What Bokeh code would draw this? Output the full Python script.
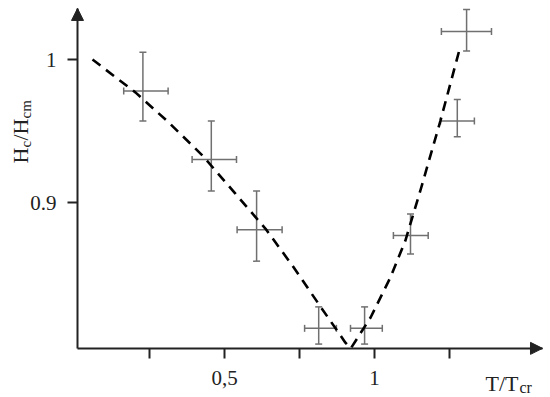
import math
from bokeh.plotting import figure
from bokeh.models import (ColumnDataSource, Whisker, TeeHead, Arrow, NormalHead,
                          Label, FixedTicker, Range1d)
from bokeh.embed import file_html
from bokeh.resources import INLINE

# ---- data ----
pt_x = [0.228, 0.456, 0.607, 0.814, 0.967, 1.120, 1.276, 1.307]
pt_y = [0.978, 0.930, 0.881, 0.812, 0.812, 0.877, 0.957, 1.0196]
pt_xlo = [0.164, 0.392, 0.542, 0.767, 0.920, 1.063, 1.220, 1.223]
pt_xhi = [0.312, 0.540, 0.692, 0.873, 1.026, 1.179, 1.333, 1.390]
pt_ylo = [0.957, 0.908, 0.859, 0.801, 0.801, 0.864, 0.946, 1.006]
pt_yhi = [1.005, 0.957, 0.908, 0.827, 0.827, 0.892, 0.972, 1.035]

curve_x = [0.060, 0.203, 0.314, 0.426, 0.537, 0.637, 0.726, 0.814, 0.903, 0.921,
           0.987, 1.053, 1.103, 1.153, 1.220, 1.287]
curve_y = [1.000, 0.977, 0.956, 0.933, 0.906, 0.8816, 0.856, 0.829, 0.802, 0.798,
           0.8196, 0.8476, 0.8734, 0.9084, 0.9573, 1.0098]

x_ticks = [0.25, 0.5, 0.75, 1.0, 1.25]
x_tick_labels = {0.25: "", 0.5: "0,5", 0.75: "", 1.0: "1", 1.25: ""}
y_ticks = [0.9, 1.0]
y_tick_labels = {0.9: "0.9", 1.0: "1"}

# axis extents (where the drawn axes start/end) and the visible window
x_axis_start, x_axis_end = 0.01, 1.56
y_axis_start, y_axis_end = 0.798, 1.0357
view_x = (-0.2467, 1.5867)
view_y = (0.76364, 1.04126)

FONT = "Liberation Serif"
INK = "#222222"

p = figure(width=550, height=397, output_backend="svg", toolbar_location=None,
           x_range=Range1d(*view_x), y_range=Range1d(*view_y),
           min_border_left=0, min_border_bottom=0, min_border_top=0, min_border_right=0)
p.outline_line_color = None
p.xgrid.visible = False
p.ygrid.visible = False
p.background_fill_color = "white"
p.border_fill_color = "white"

for ax in (p.xaxis[0], p.yaxis[0]):
    ax.axis_line_color = INK
    ax.axis_line_width = 2
    ax.major_tick_line_color = INK
    ax.major_tick_line_width = 2
    ax.major_tick_in = 0
    ax.major_tick_out = 10
    ax.minor_tick_line_color = None
    ax.major_label_text_font = FONT
    ax.major_label_text_font_size = "21px"
    ax.major_label_text_color = INK

p.xaxis.fixed_location = y_axis_start
p.xaxis.bounds = (x_axis_start, x_axis_end)
p.xaxis.ticker = FixedTicker(ticks=x_ticks)
p.xaxis.major_label_overrides = x_tick_labels
p.xaxis.major_label_standoff = 13
p.yaxis.fixed_location = x_axis_start
p.yaxis.bounds = (y_axis_start, y_axis_end)
p.yaxis.ticker = FixedTicker(ticks=y_ticks)
p.yaxis.major_label_overrides = y_tick_labels
p.yaxis.major_label_standoff = 11

# dashed curve
p.line(curve_x, curve_y, line_color="black", line_width=2.6, line_dash="10 7")

src = ColumnDataSource(dict(x=pt_x, y=pt_y, xlo=pt_xlo, xhi=pt_xhi, ylo=pt_ylo, yhi=pt_yhi))
ebc = "#707070"
def head():
    return TeeHead(size=7, line_color=ebc, line_width=1.5)
p.add_layout(Whisker(source=src, base="x", lower="ylo", upper="yhi", dimension="height",
                     line_color=ebc, line_width=1.5, lower_head=head(), upper_head=head()))
p.add_layout(Whisker(source=src, base="y", lower="xlo", upper="xhi", dimension="width",
                     line_color=ebc, line_width=1.5, lower_head=head(), upper_head=head()))

# axis arrows
p.add_layout(Arrow(x_start=x_axis_start, y_start=y_axis_end - 0.01, x_end=x_axis_start, y_end=y_axis_end,
                   line_alpha=0, end=NormalHead(size=12, fill_color=INK, line_color=INK)))
p.add_layout(Arrow(x_start=x_axis_end - 0.05, y_start=y_axis_start, x_end=x_axis_end, y_end=y_axis_start,
                   line_alpha=0, end=NormalHead(size=12, fill_color=INK, line_color=INK)))

# axis titles built from pieces (screen units, from the bottom-left corner)
def lab(text, x, y, size, angle=0.0):
    p.add_layout(Label(x=x, y=y, x_units="screen", y_units="screen", text=text,
                       text_font=FONT, text_font_size=size, text_color=INK,
                       angle=angle, text_align="left", text_baseline="alphabetic"))

lab("T/T", 485, 14, "22px")
lab("cr", 519, 10, "16px")

a = math.pi / 2
lab("H", 20, 234, "22px", a)
lab("c", 25, 250, "15px", a)
lab("/H", 20, 257, "22px", a)
lab("cm", 25, 279, "15px", a)

open("out.html", "w").write(file_html(p, INLINE))
